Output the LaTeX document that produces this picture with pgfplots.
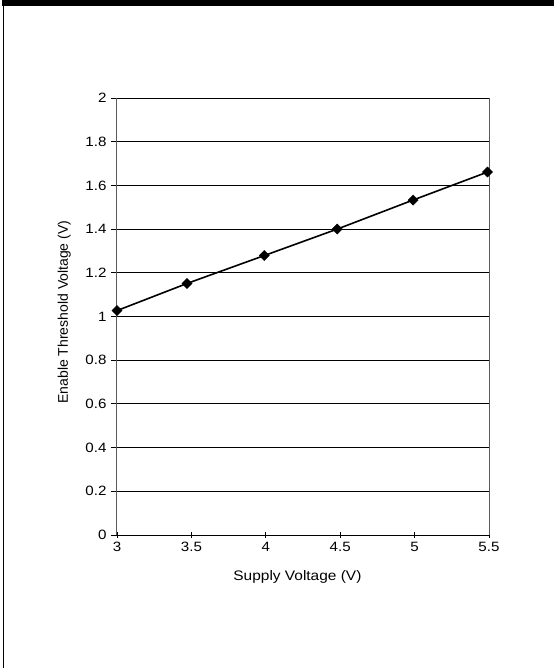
\documentclass[border=0pt]{standalone}
\usepackage{fontspec}
\setmainfont{Liberation Sans}[FakeStretch=1.12]
\newfontfamily\ylfont{Liberation Sans}
\usepackage{pgfplots}
\pgfplotsset{compat=1.18}
\begin{document}
\begin{tikzpicture}
\begin{axis}[
  at={(0pt,0pt)}, anchor=south west,
  width=372pt, height=437pt, scale only axis,
  xmin=3, xmax=5.5, ymin=0, ymax=2,
  xtick={3,3.5,4,4.5,5,5.5},
  ytick={0,0.2,0.4,0.6,0.8,1,1.2,1.4,1.6,1.8,2},
  yticklabels={0,0.2,0.4,0.6,0.8,1,1.2,1.4,1.6,1.8,2},
  xticklabels={3,3.5,4,4.5,5,5.5},
  /pgf/number format/assume math mode=true,
  ymajorgrids, major grid style={black,line width=0.8pt},
  axis line style={draw=none},
  tick style={black,line width=0.8pt},
  major tick length=6pt,
  ytick align=outside, xtick align=center,
  xtick pos=bottom, ytick pos=left,
  tick label style={font=\fontsize{13.5}{15}\selectfont},
  xticklabel style={yshift=-1pt},
  yticklabel style={xshift=-1pt},
  xlabel={Supply Voltage (V)},
  ylabel={\ylfont Enable Threshold Voltage (V)},
  xlabel style={font=\fontsize{13.8}{16}\selectfont, at={(axis description cs:0.485,-0.096)}, anchor=center},
  ylabel style={font=\fontsize{14}{16}\selectfont, at={(axis description cs:-0.142,0.51)}, anchor=center, rotate=0},
  clip=false,
]
\draw[gray!70!black,line width=1pt] (axis cs:3,0) -- (axis cs:3,2);
\draw[gray!70!black,line width=1pt] (axis cs:5.5,0) -- (axis cs:5.5,2);
\draw[black,line width=1pt] (axis cs:3,0) -- (axis cs:5.5,0);
\addplot[black,line width=1.6pt,mark=square*,mark size=3.6pt,mark options={rotate=45,solid,line width=0.4pt}] coordinates {
(3.0,1.027) (3.47,1.151) (3.99,1.279) (4.48,1.40) (4.99,1.533) (5.49,1.661)
};
\end{axis}
\fill[black] (-115pt,529pt) rectangle (437pt,535pt);
\draw[black,line width=1.5pt] (-113.5pt,-133pt) -- (-113.5pt,529pt);
\pgfresetboundingbox
\path[use as bounding box] (-117pt,-133pt) rectangle (437pt,535pt);
\end{tikzpicture}
\end{document}
